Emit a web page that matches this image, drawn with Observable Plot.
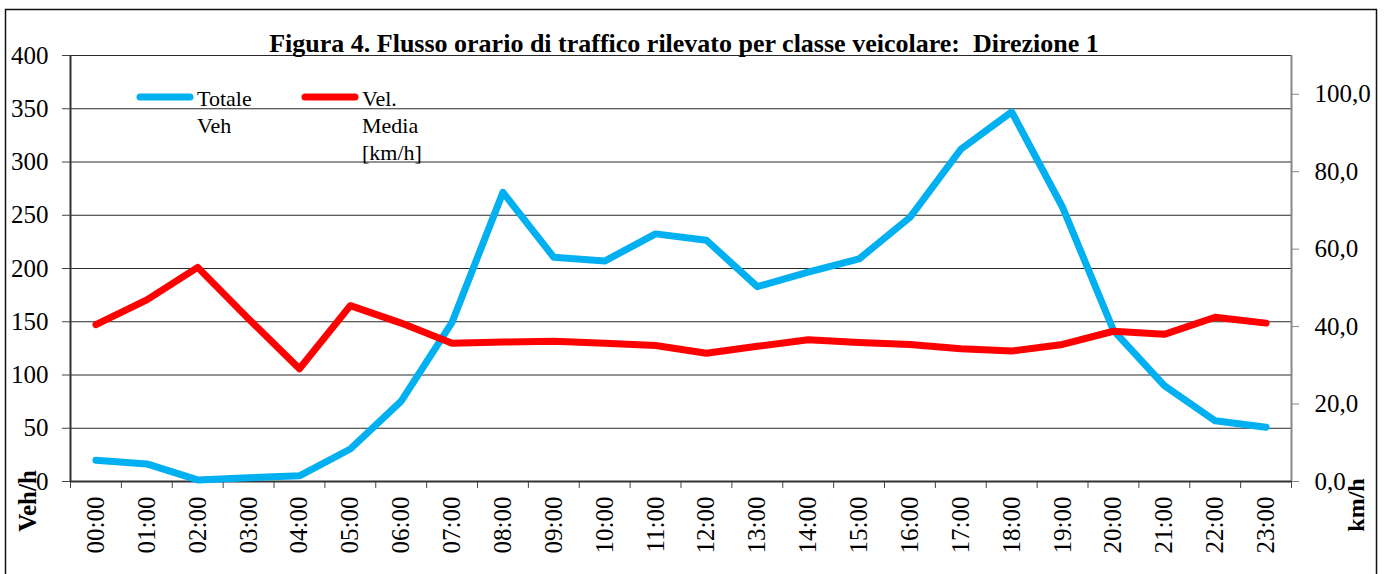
<!DOCTYPE html>
<html>
<head>
<meta charset="utf-8">
<script src="https://cdn.jsdelivr.net/npm/d3@7"></script>
<script src="https://cdn.jsdelivr.net/npm/@observablehq/plot@0.6"></script>
<style>
  html, body { margin: 0; padding: 0; background: #fff; }
  #chart { width: 1385px; height: 574px; overflow: hidden; }
</style>
</head>
<body>
<div id="chart"></div>
<script>
const hours = ["00:00","01:00","02:00","03:00","04:00","05:00","06:00","07:00","08:00","09:00","10:00","11:00","12:00","13:00","14:00","15:00","16:00","17:00","18:00","19:00","20:00","21:00","22:00","23:00"];
const totaleVeh = [20, 16.5, 1.5, 3.5, 5.3, 30.5, 75.5, 149.5, 271.5, 210.5, 207, 232.5, 226.5, 183, 196.5, 209, 248, 312, 347, 257.5, 142, 90, 57, 51];
const velMedia = [40.5, 46.9, 55.3, 42.0, 29.1, 45.4, 40.9, 35.7, 36.0, 36.2, 35.7, 35.1, 33.1, 34.9, 36.6, 35.9, 35.4, 34.3, 33.7, 35.4, 38.8, 38.0, 42.4, 40.9];
const leftTicks = [0, 50, 100, 150, 200, 250, 300, 350, 400];
const rightTicks = [0, 20, 40, 60, 80, 100];
const leftMax = 400;
const rightMax = 110;
const titleText = "Figura 4. Flusso orario di traffico rilevato per classe veicolare:  Direzione 1";
const seriesNames = [["Totale", "Veh"], ["Vel.", "Media", "[km/h]"]];
const leftLabel = "Veh/h";
const rightLabel = "km/h";

const BLUE = "#00B0F0", RED = "#FF0000";
const FONT = "'Liberation Serif', 'Times New Roman', serif";
const toLeft = v => v * leftMax / rightMax;

const data = hours.map((h, i) => ({i, h, veh: totaleVeh[i], vel: toLeft(velMedia[i])}));

const chart = Plot.plot({
  width: 1385,
  height: 574,
  marginLeft: 70,
  marginRight: 94,
  marginTop: 55,
  marginBottom: 93,
  style: {fontFamily: FONT, fontSize: "25px", color: "#000", background: "#fff"},
  x: {domain: [0, 24], axis: null},
  y: {domain: [0, leftMax], axis: null},
  marks: [
    Plot.ruleY(leftTicks.filter(v => v > 0), {stroke: "#2a2a2a", strokeWidth: 1.2}),
    Plot.axisY({ticks: leftTicks, tickSize: 8, tickPadding: 14, label: null, fontSize: 25, stroke: "#444"}),
    Plot.axisY({anchor: "right", ticks: rightTicks.map(toLeft), tickFormat: d => (d * rightMax / leftMax).toFixed(1).replace(".", ","), tickSize: 7, tickPadding: 16, label: null, fontSize: 25, stroke: "#888"}),
    Plot.axisX({ticks: d3.range(25), tickSize: 7, tickFormat: () => "", label: null, stroke: "#444"}),
    Plot.axisX({ticks: d3.range(24).map(i => i + 0.5), tickSize: 0, tickPadding: 15, tickRotate: -90, tickFormat: d => hours[Math.floor(d)], label: null, fontSize: 25}),
    Plot.ruleX([24], {stroke: "#888", strokeWidth: 2}),
    Plot.ruleX([0], {stroke: "#333", strokeWidth: 2}),
    Plot.ruleY([0], {stroke: "#333", strokeWidth: 2}),
    Plot.line(data, {x: d => d.i + 0.5, y: "veh", stroke: BLUE, strokeWidth: 7, strokeLinecap: "round", strokeLinejoin: "round"}),
    Plot.line(data, {x: d => d.i + 0.5, y: "vel", stroke: RED, strokeWidth: 7, strokeLinecap: "round", strokeLinejoin: "round"})
  ]
});

const svg = d3.select(chart);
// outer border
svg.append("rect").attr("x", 5.5).attr("y", 9.5).attr("width", 1371).attr("height", 620)
  .attr("fill", "none").attr("stroke", "#111").attr("stroke-width", 1.5);
// title
svg.append("text").attr("x", 684).attr("y", 52).attr("text-anchor", "middle")
  .attr("font-family", FONT).attr("font-weight", "bold").attr("font-size", 26).attr("fill", "#000")
  .text(titleText);
// legend
const legend = [{x: 140, color: BLUE, lines: seriesNames[0]}, {x: 305, color: RED, lines: seriesNames[1]}];
legend.forEach(l => {
  svg.append("line").attr("x1", l.x).attr("x2", l.x + 50).attr("y1", 97).attr("y2", 97)
    .attr("stroke", l.color).attr("stroke-width", 7).attr("stroke-linecap", "round");
  l.lines.forEach((t, k) => {
    svg.append("text").attr("x", l.x + 57).attr("y", 106 + k * 27).attr("text-anchor", "start")
      .attr("font-family", FONT).attr("font-size", 22).attr("fill", "#000").text(t);
  });
});
// axis titles
svg.append("text").attr("transform", "translate(27,501) rotate(-90)").attr("text-anchor", "middle").attr("dy", "0.35em")
  .attr("font-family", FONT).attr("font-weight", "bold").attr("font-size", 25).attr("fill", "#000").text(leftLabel);
svg.append("text").attr("transform", "translate(1356,505) rotate(-90)").attr("text-anchor", "middle").attr("dy", "0.35em")
  .attr("font-family", FONT).attr("font-weight", "bold").attr("font-size", 24).attr("fill", "#000").text(rightLabel);

document.getElementById("chart").appendChild(chart);
</script>
</body>
</html>
